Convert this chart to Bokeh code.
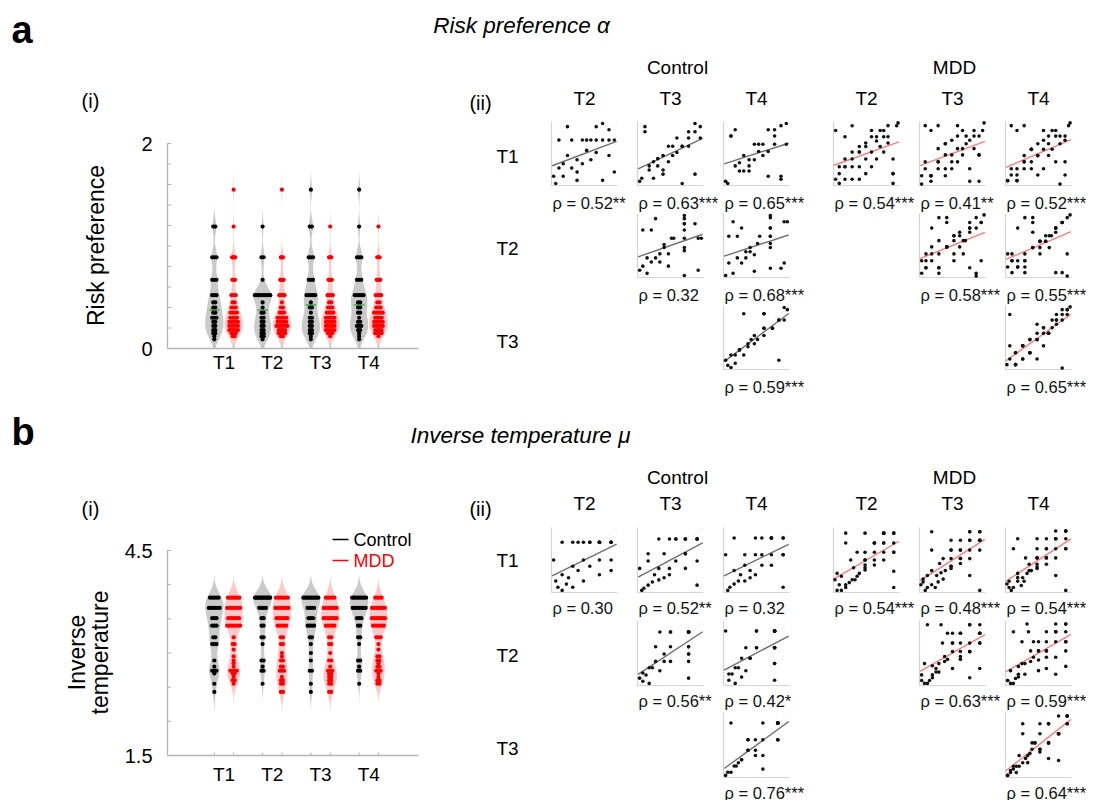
import numpy as np
import pandas as pd
from bokeh.plotting import figure
from bokeh.models import Range1d
from bokeh.core.properties import value
from bokeh.embed import file_html
from bokeh.resources import INLINE

# ---------------- data ----------------
timepoints = ["T1", "T2", "T3", "T4"]

# Risk preference alpha, per subject, Control (n=30)
risk_control_T1 = [0.09, 0.12, 0.15, 0.15, 0.18, 0.18, 0.22, 0.22, 0.26, 0.26,
                   0.30, 0.30, 0.35, 0.35, 0.40, 0.40, 0.45, 0.45, 0.52, 0.52,
                   0.52, 0.67, 0.67, 0.67, 0.89, 0.89, 0.89, 1.19, 1.19, 0.30]
risk_control_T2 = [0.15, 0.09, 0.22, 0.52, 0.26, 0.15, 0.89, 0.35, 0.22, 0.52,
                   0.30, 0.18, 0.52, 0.26, 0.45, 0.52, 0.52, 0.30, 0.40, 0.52,
                   0.89, 0.12, 0.52, 1.19, 0.35, 0.67, 0.52, 0.18, 0.52, 0.12]
risk_control_T3 = [0.12, 0.15, 1.19, 0.89, 0.22, 0.26, 0.15, 0.30, 0.26, 0.35,
                   0.40, 0.22, 0.52, 0.30, 0.52, 0.40, 0.67, 0.45, 0.52, 0.09,
                   0.52, 0.67, 0.89, 0.52, 0.18, 0.89, 1.55, 0.67, 1.19, 0.18]
risk_control_T4 = [0.12, 0.09, 0.67, 0.67, 0.26, 0.89, 0.22, 0.30, 0.22, 0.40,
                   0.35, 0.26, 0.52, 0.35, 0.52, 0.45, 0.52, 0.40, 0.45, 0.18,
                   0.89, 0.52, 0.67, 0.89, 0.15, 0.18, 1.19, 0.52, 1.55, 0.22]

# Risk preference alpha, MDD (n=45)
risk_mdd_T1 = [0.12, 0.12, 0.15, 0.15, 0.15, 0.18, 0.18, 0.18, 0.18, 0.22,
               0.22, 0.22, 0.22, 0.26, 0.26, 0.26, 0.26, 0.30, 0.30, 0.30,
               0.30, 0.35, 0.35, 0.35, 0.40, 0.40, 0.40, 0.45, 0.45, 0.52,
               0.52, 0.52, 0.67, 0.67, 0.67, 0.89, 0.89, 0.89, 0.89, 1.19,
               1.55, 0.22, 0.18, 0.35, 0.26]
risk_mdd_T2 = [0.15, 0.67, 0.12, 0.22, 0.18, 0.15, 0.22, 0.26, 0.52, 0.89,
               0.30, 0.22, 0.26, 0.15, 0.35, 0.22, 0.30, 0.26, 0.18, 0.40,
               0.35, 0.30, 0.52, 0.22, 0.45, 0.26, 0.52, 0.35, 0.67, 0.30,
               0.67, 0.52, 0.89, 0.40, 0.52, 0.18, 0.18, 0.26, 0.12, 0.89,
               1.55, 0.15, 0.22, 0.67, 0.30]
risk_mdd_T3 = [0.18, 0.12, 0.22, 0.89, 0.26, 0.18, 0.15, 0.67, 0.18, 0.22,
               0.26, 0.35, 0.89, 0.22, 0.30, 0.18, 0.40, 0.30, 0.22, 0.26,
               0.45, 0.35, 0.52, 0.26, 0.35, 0.30, 0.67, 0.40, 0.52, 0.22,
               0.15, 0.45, 0.67, 0.35, 0.52, 0.30, 0.52, 0.30, 0.15, 0.67,
               1.19, 0.26, 0.18, 0.89, 0.40]
risk_mdd_T4 = [0.15, 0.15, 0.18, 0.89, 0.22, 0.22, 0.18, 0.67, 0.15, 0.26,
               0.30, 0.26, 0.89, 0.26, 0.35, 0.22, 0.35, 0.30, 0.18, 0.30,
               0.40, 0.35, 0.45, 0.22, 0.40, 0.30, 0.52, 0.35, 0.67, 0.26,
               0.67, 0.52, 0.12, 0.40, 0.52, 0.18, 0.52, 0.45, 0.26, 0.89,
               1.19, 0.22, 0.15, 0.67, 0.35]

# Inverse temperature mu, Control (n=30)
invtemp_control_T1 = [3.81, 3.81, 3.81, 3.81, 3.81, 3.66, 3.66, 3.66, 3.66, 3.66,
                      3.66, 3.51, 3.51, 3.40, 3.40, 3.40, 3.23, 3.23, 3.13, 3.13,
                      3.13, 2.89, 2.80, 2.74, 2.74, 2.74, 2.70, 2.55, 2.43, 3.51]
invtemp_control_T2 = [3.81, 3.66, 3.81, 3.40, 3.81, 3.81, 3.81, 3.23, 3.81, 3.66,
                      3.81, 3.81, 3.51, 3.81, 3.66, 2.89, 3.81, 3.40, 3.51, 2.74,
                      3.81, 3.13, 2.80, 3.23, 2.55, 3.81, 2.74, 2.89, 3.66, 3.81]
invtemp_control_T3 = [3.81, 3.81, 2.74, 3.81, 3.51, 3.81, 3.81, 3.40, 3.81, 3.66,
                      3.66, 3.81, 3.51, 3.40, 3.81, 3.23, 3.66, 3.13, 3.40, 3.00,
                      3.81, 3.23, 2.89, 3.66, 2.74, 3.51, 2.55, 2.43, 3.40, 3.81]
invtemp_control_T4 = [3.81, 3.81, 2.74, 3.66, 3.66, 3.81, 3.81, 3.51, 3.81, 3.66,
                      3.81, 3.66, 3.51, 3.66, 3.81, 3.23, 3.40, 3.13, 3.51, 2.89,
                      3.66, 3.23, 2.89, 2.80, 3.81, 3.40, 2.74, 2.55, 3.66, 3.81]

# Inverse temperature mu, MDD (n=45)
invtemp_mdd_T1 = [3.81, 3.81, 3.81, 3.81, 3.81, 3.81, 3.66, 3.66, 3.66, 3.66,
                  3.66, 3.66, 3.51, 3.51, 3.51, 3.51, 3.51, 3.40, 3.40, 3.40,
                  3.40, 3.40, 3.40, 3.23, 3.13, 3.05, 2.95, 2.89, 2.85, 2.80,
                  2.74, 2.74, 2.74, 2.70, 2.70, 2.65, 2.60, 2.60, 2.55, 3.66,
                  3.51, 3.40, 3.81, 2.74, 3.13]
invtemp_mdd_T2 = [2.95, 2.55, 3.81, 3.51, 3.81, 3.66, 3.81, 3.51, 3.66, 3.40,
                  3.81, 3.66, 3.66, 3.40, 3.51, 3.23, 3.66, 3.51, 3.00, 3.40,
                  3.81, 3.13, 3.40, 2.89, 3.51, 2.74, 3.13, 2.74, 3.40, 2.65,
                  3.81, 2.60, 3.66, 2.80, 2.43, 2.60, 2.89, 2.43, 2.74, 3.81,
                  3.66, 3.23, 3.51, 2.55, 2.80]
invtemp_mdd_T3 = [3.81, 2.43, 3.66, 3.51, 3.66, 3.81, 2.74, 3.66, 3.40, 3.66,
                  3.51, 3.81, 3.40, 3.51, 3.23, 3.66, 3.40, 3.13, 3.51, 3.40,
                  3.66, 3.00, 3.51, 2.89, 3.40, 2.80, 3.23, 2.65, 2.74, 2.55,
                  3.51, 3.81, 2.60, 2.74, 2.55, 2.43, 2.70, 2.65, 2.60, 3.81,
                  3.51, 3.13, 3.66, 2.89, 2.70]
invtemp_mdd_T4 = [3.81, 2.55, 3.81, 3.66, 3.51, 3.81, 3.66, 2.85, 3.66, 3.51,
                  3.40, 3.66, 3.51, 3.40, 3.40, 3.51, 3.23, 3.40, 3.66, 3.13,
                  3.51, 3.05, 3.40, 2.95, 3.23, 2.89, 3.40, 2.74, 2.80, 2.65,
                  2.89, 3.66, 2.74, 3.51, 2.60, 2.55, 2.74, 2.60, 2.70, 3.81,
                  3.66, 3.23, 3.51, 2.80, 2.95]

# Spearman rho labels (rows T1..T3 vs columns T2..T4, upper triangle)
risk_rho_control = [["ρ = 0.52**", "ρ = 0.63***", "ρ = 0.65***"],
                    ["ρ = 0.32", "ρ = 0.68***"],
                    ["ρ = 0.59***"]]
risk_rho_mdd = [["ρ = 0.54***", "ρ = 0.41**", "ρ = 0.52***"],
                ["ρ = 0.58***", "ρ = 0.55***"],
                ["ρ = 0.65***"]]
invtemp_rho_control = [["ρ = 0.30", "ρ = 0.52**", "ρ = 0.32"],
                       ["ρ = 0.56**", "ρ = 0.42*"],
                       ["ρ = 0.76***"]]
invtemp_rho_mdd = [["ρ = 0.54***", "ρ = 0.48***", "ρ = 0.54***"],
                   ["ρ = 0.63***", "ρ = 0.59***"],
                   ["ρ = 0.64***"]]

risk_ticks = ["0", "2"]
invtemp_ticks = ["1.5", "4.5"]

# ---------------- figure ----------------
W, H = 1100, 800
OFF = 0  # layout positions below are window pixels
FONT = value("Liberation Sans")

p = figure(width=W, height=H, x_range=Range1d(0, W), y_range=Range1d(H, 0),
           x_axis_type=None, y_axis_type=None, toolbar_location=None,
           output_backend="svg", min_border=0, outline_line_color=None,
           background_fill_color="white", border_fill_color="white")


def txt(x, y, s, size, align="center", style="normal", color="#000000",
        angle=0.0, baseline="middle"):
    p.text(x=[x - OFF], y=[y - OFF], text=[s], text_font=FONT,
           text_font_size=f"{size}px", text_font_style=style, text_color=color,
           text_align=align, text_baseline=baseline, angle=angle)


def kde(v, grid, bw):
    return np.exp(-0.5 * ((grid[:, None] - v[None, :]) / bw) ** 2).sum(axis=1)


def violin_panel(left, right, top, bottom, ymin, ymax, minor_step, ctrl, mdd,
                 bw, ticks, cat_dy):
    xr = (-0.17, 5.03)
    xy = p.subplot(x_source=Range1d(*xr), y_source=Range1d(ymin, ymax),
                   x_target=Range1d(left - OFF, right - OFF),
                   y_target=Range1d(bottom - OFF, top - OFF))
    axis_col = "#b4b4b4"
    units_per_px = (ymax - ymin) / (bottom - top)
    # axes
    xy.segment(x0=[xr[0], xr[0]], y0=[ymin, ymin], x1=[xr[0], xr[1]], y1=[ymax, ymin],
               line_color=axis_col, line_width=1.3)
    tk = np.arange(ymin, ymax + 1e-9, minor_step)
    xy.scatter(x=[xr[0] + 0.035] * len(tk), y=tk, marker="dash", size=4,
               line_color=axis_col, line_width=1)
    xy.text(x=[xr[0], xr[0]], y=[ymin, ymax], text=ticks, x_offset=-15,
            text_align="right", text_baseline="middle", text_font=FONT,
            text_font_size="20px", text_color="#000000")
    centers = []
    for gi, (data, fill, dot) in enumerate([(ctrl, "#cacaca", "#000000"),
                                            (mdd, "#ffc8c8", "#ff0000")]):
        off = -0.2 if gi == 0 else 0.2
        for k, vals in enumerate(data):
            c = k + 1 + off
            centers.append(c)
            v = np.asarray(vals, float)
            lo = max(ymin, v.min() - 2.6 * bw)
            hi = min(ymax, v.max() + 2.6 * bw)
            grid = np.linspace(lo, hi, 160)
            dens = kde(v, grid, bw)
            dmax = dens.max()
            hw = 0.19 * dens / dmax
            xy.patch(x=np.concatenate([c + hw, (c - hw)[::-1]]),
                     y=np.concatenate([grid, grid[::-1]]),
                     fill_color=fill, line_color=None)
            med = float(np.median(v))
            xy.segment(x0=[c - 0.11], y0=[med], x1=[c + 0.11], y1=[med],
                       line_color="#5cb85c", line_width=2)
            uniq, counts = np.unique(v, return_counts=True)
            px, py = [], []
            for u, n in zip(uniq, counts):
                h = 0.19 * kde(v, np.array([u]), bw)[0] / dmax
                sp = 0.045
                if n > 1 and (n - 1) * sp / 2 > 0.85 * h:
                    sp = 1.7 * h / (n - 1)
                for i in range(n):
                    px.append(c + (i - (n - 1) / 2) * sp)
                    py.append(u)
            xy.scatter(x=px, y=py, size=4.2, fill_color=dot, line_color=None)
    xy.scatter(x=centers, y=[ymin + 1.5 * units_per_px] * len(centers), marker="dash",
               angle=np.pi / 2, size=3, line_color=axis_col)
    xy.text(x=[1, 2, 3, 4], y=[ymin] * 4, text=timepoints, y_offset=cat_dy,
            text_align="center", text_baseline="middle", text_font=FONT,
            text_font_size="19px", text_color="#000000")


def scatter_panel(left, top, w, h, xv, yv, line_color, label, label_dy):
    n = len(xv)
    rx = pd.Series(xv).rank(method="average").to_numpy()
    ry = pd.Series(yv).rank(method="average").to_numpy()
    xy = p.subplot(x_source=Range1d(0, n + 1), y_source=Range1d(0, n + 1),
                   x_target=Range1d(left - OFF, left - OFF + w),
                   y_target=Range1d(top - OFF + h, top - OFF))
    xy.segment(x0=[0, 0], y0=[0, 0], x1=[0, n + 1], y1=[n + 1, 0],
               line_color="#d4d4d4", line_width=1.2)
    xy.line(x=[0, n + 1], y=[0, n + 1], line_color="#dadada", line_dash="1 2",
            line_width=1)
    slope, icpt = np.polyfit(rx, ry, 1)
    fx = np.array([0.3, n + 0.6])
    xy.line(x=fx, y=slope * fx + icpt, line_color=line_color, line_width=1.4)
    xy.scatter(x=rx, y=ry, size=3.6, fill_color="#111111", line_color=None)
    txt(left + 1, top + h + label_dy, label, 16.5, align="left", color="#111111")


def grid_block(series_c, series_m, rho_c, rho_m, row_tops, ph, label_dy):
    col_c = [551, 637, 723]
    col_m = [833, 919, 1005]
    pw = 66
    for i in range(3):
        for j in range(i, 3):
            scatter_panel(col_c[j], row_tops[i], pw, ph, series_c[i], series_c[j + 1],
                          "#6f6f6f", rho_c[i][j - i], label_dy)
            scatter_panel(col_m[j], row_tops[i], pw, ph, series_m[i], series_m[j + 1],
                          "#ff7a7a", rho_m[i][j - i], label_dy)


# ---------------- section a ----------------
txt(11, 29, "a", 38, align="left", style="bold")
txt(521, 25, "Risk preference α", 22.5, style="italic")
txt(90, 100, "(i)", 20)
txt(480, 102, "(ii)", 20)
txt(677, 67, "Control", 19)
txt(954, 67, "MDD", 19)
for x, t in zip([584, 670, 756, 866, 952, 1038], timepoints[1:] * 2):
    txt(x, 98, t, 19)
for y, t in zip([156, 248, 341], timepoints[:3]):
    txt(507, y, t, 19)
txt(95, 245, "Risk preference", 23, angle=np.pi / 2)

risk_c = [risk_control_T1, risk_control_T2, risk_control_T3, risk_control_T4]
risk_m = [risk_mdd_T1, risk_mdd_T2, risk_mdd_T3, risk_mdd_T4]
violin_panel(167, 418, 143, 348, 0.0, 2.0, 0.2, risk_c, risk_m, 0.075, risk_ticks, 14)
grid_block(risk_c, risk_m, risk_rho_control, risk_rho_mdd, [121, 213, 305], 64, 17)

# ---------------- section b ----------------
txt(11, 431, "b", 38, align="left", style="bold")
txt(520, 435, "Inverse temperature μ", 22.5, style="italic")
txt(90, 508, "(i)", 20)
txt(480, 508, "(ii)", 20)
txt(677, 477, "Control", 19)
txt(954, 477, "MDD", 19)
for x, t in zip([584, 670, 756, 866, 952, 1038], timepoints[1:] * 2):
    txt(x, 503, t, 19)
for y, t in zip([560, 655, 748], timepoints[:3]):
    txt(507, y, t, 19)
txt(76, 652, "Inverse", 23, angle=np.pi / 2)
txt(99, 652, "temperature", 23, angle=np.pi / 2)
# legend
p.segment(x0=[332 - OFF, 332 - OFF], y0=[539 - OFF, 560 - OFF],
          x1=[348 - OFF, 348 - OFF], y1=[539 - OFF, 560 - OFF],
          line_color=["#000000", "#ff0000"], line_width=1.5)
txt(353, 539, "Control", 18, align="left")
txt(353, 560, "MDD", 18, align="left", color="#ff0000")

it_c = [invtemp_control_T1, invtemp_control_T2, invtemp_control_T3, invtemp_control_T4]
it_m = [invtemp_mdd_T1, invtemp_mdd_T2, invtemp_mdd_T3, invtemp_mdd_T4]
violin_panel(167, 418, 550, 755, 1.5, 4.5, 0.5, it_c, it_m, 0.12, invtemp_ticks, 19)
grid_block(it_c, it_m, invtemp_rho_control, invtemp_rho_mdd, [527, 620, 712], 65, 15)

open("out.html", "w").write(file_html(p, INLINE))
